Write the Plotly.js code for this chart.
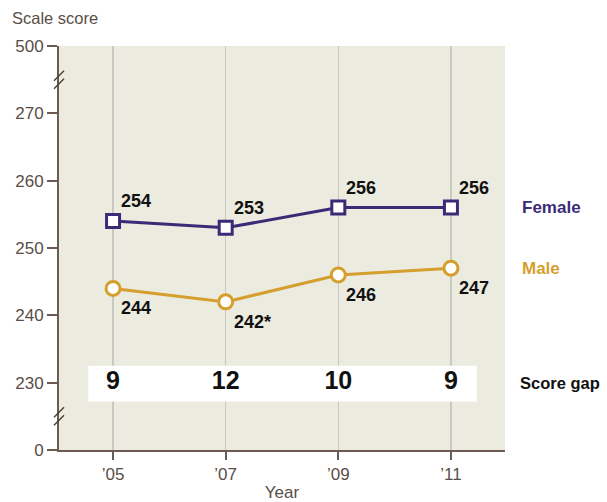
<!DOCTYPE html>
<html>
<head>
<meta charset="utf-8">
<script src="https://cdn.plot.ly/plotly-3.0.1.min.js"></script>
<style>html,body{margin:0;padding:0;background:#fff;}#chart{width:607px;height:502px;}</style>
</head>
<body>
<div id="chart"></div>
<script>
// ---- data ----
const years = ["\u201905", "\u201907", "\u201909", "\u201911"];
const female = [254, 253, 256, 256];
const male = [244, 242, 246, 247];
const maleNote = ["", "*", "", ""];
const scoreGap = [9, 12, 10, 9];
// y axis is broken: displayed positions vs. tick labels
const yTickVals = [220, 230, 240, 250, 260, 270, 280];
const yTickText = ["0", "230", "240", "250", "260", "270", "500"];
const gapRowValue = 230;
const breakValues = [275, 225];

const FONT = "Liberation Sans, Arial, sans-serif";
const PURPLE = "#3b2b77";
const GOLD = "#d59f2e";
const AXIS = "#6b5b50";
const TICKTXT = "#5a4d46";

const traces = [
  {
    x: years, y: female, type: "scatter", mode: "lines+markers", name: "Female",
    line: {color: PURPLE, width: 3},
    marker: {symbol: "square", size: 13, color: "#ffffff", line: {color: PURPLE, width: 3}},
    hoverinfo: "skip", cliponaxis: false
  },
  {
    x: years, y: male, type: "scatter", mode: "lines+markers", name: "Male",
    line: {color: GOLD, width: 3},
    marker: {symbol: "circle", size: 14, color: "#ffffff", line: {color: GOLD, width: 3}},
    hoverinfo: "skip", cliponaxis: false
  },
  {
    x: years, y: years.map(() => gapRowValue), type: "scatter", mode: "text",
    text: scoreGap.map(String),
    textfont: {family: FONT, size: 25, color: "#111111", weight: "bold"},
    textposition: "middle center", hoverinfo: "skip", cliponaxis: false
  }
];

const annotations = [];
years.forEach((yr, i) => {
  annotations.push({
    x: yr, y: female[i], xref: "x", yref: "y", text: String(female[i]),
    showarrow: false, xanchor: "left", yanchor: "bottom", xshift: 6, yshift: 8,
    font: {family: FONT, size: 18, color: "#111111", weight: "bold"}
  });
  annotations.push({
    x: yr, y: male[i], xref: "x", yref: "y", text: String(male[i]) + maleNote[i],
    showarrow: false, xanchor: "left", yanchor: "top", xshift: 6, yshift: -8,
    font: {family: FONT, size: 18, color: "#111111", weight: "bold"}
  });
});
annotations.push({
  x: 1.034, xref: "paper", y: female[female.length - 1], yref: "y", text: "Female",
  showarrow: false, xanchor: "left", yanchor: "middle",
  font: {family: FONT, size: 17, color: PURPLE, weight: "bold"}
});
annotations.push({
  x: 1.034, xref: "paper", y: male[male.length - 1], yref: "y", text: "Male",
  showarrow: false, xanchor: "left", yanchor: "middle",
  font: {family: FONT, size: 17, color: GOLD, weight: "bold"}
});
annotations.push({
  x: 1.03, xref: "paper", y: gapRowValue, yref: "y", text: "Score gap",
  showarrow: false, xanchor: "left", yanchor: "middle",
  font: {family: FONT, size: 16.5, color: "#111111", weight: "bold"}
});

const shapes = [
  {
    type: "rect", xref: "x", yref: "y", x0: -0.22, x1: 3.23, y0: 227.2, y1: 232.5,
    fillcolor: "#ffffff", line: {width: 0}, layer: "between"
  }
];
breakValues.forEach(v => {
  shapes.push({
    type: "line", xref: "paper", yref: "y", xsizemode: "pixel", ysizemode: "pixel",
    xanchor: 0, yanchor: v, x0: -5, x1: 5, y0: -1, y1: 9,
    line: {color: "#4a3d36", width: 1.5}, layer: "above"
  });
  shapes.push({
    type: "line", xref: "paper", yref: "y", xsizemode: "pixel", ysizemode: "pixel",
    xanchor: 0, yanchor: v, x0: -5, x1: 5, y0: -9, y1: 1,
    line: {color: "#4a3d36", width: 1.5}, layer: "above"
  });
});

const layout = {
  width: 607, height: 502,
  margin: {l: 59, r: 102, t: 46, b: 52, autoexpand: false},
  paper_bgcolor: "#ffffff",
  plot_bgcolor: "#ecebe0",
  showlegend: false,
  font: {family: FONT, size: 17, color: TICKTXT},
  title: {
    text: "Scale score", x: 12 / 607, xanchor: "left", xref: "container",
    y: 1 - 18 / 502, yanchor: "middle", yref: "container",
    font: {family: FONT, size: 16.5, color: TICKTXT}
  },
  xaxis: {
    type: "category", range: [-0.48, 3.48], fixedrange: true,
    showgrid: true, gridcolor: "#c9c8c2", gridwidth: 1.5,
    showline: true, linecolor: AXIS, linewidth: 2,
    ticks: "outside", ticklen: 8, tickwidth: 2, tickcolor: AXIS,
    tickfont: {family: FONT, size: 17, color: TICKTXT},
    title: {text: "Year", standoff: 6, font: {family: FONT, size: 17, color: TICKTXT}},
    zeroline: false, automargin: false
  },
  yaxis: {
    range: [220, 280], fixedrange: true,
    tickmode: "array", tickvals: yTickVals, ticktext: yTickText,
    showgrid: false, zeroline: false,
    showline: true, linecolor: AXIS, linewidth: 2,
    ticks: "outside", ticklen: 10, tickwidth: 2, tickcolor: AXIS,
    tickfont: {family: FONT, size: 17, color: TICKTXT},
    automargin: false
  },
  annotations: annotations,
  shapes: shapes
};

Plotly.newPlot("chart", traces, layout, {staticPlot: true, displayModeBar: false});
</script>
</body>
</html>
